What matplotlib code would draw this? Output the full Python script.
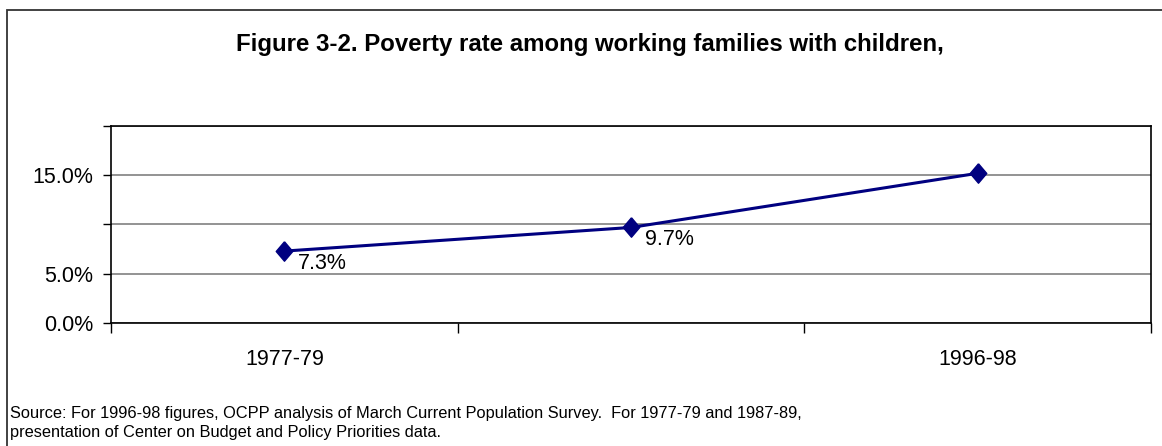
import matplotlib.pyplot as plt
from matplotlib.patches import Rectangle
from matplotlib.ticker import FixedLocator

plt.rcParams['font.family'] = ['Liberation Sans', 'DejaVu Sans']

# data
periods = ['1977-79', '1987-89', '1996-98']
shown_labels = ['1977-79', '', '1996-98']
rates = [7.3, 9.7, 15.2]
point_labels = ['7.3%', '9.7%', '']
y_grid = [0, 5, 10, 15, 20]
y_labels = ['0.0%', '5.0%', '', '15.0%', '']

title = 'Figure 3-2. Poverty rate among working families with children,'
source = ('Source: For 1996-98 figures, OCPP analysis of March Current Population Survey.  '
          'For 1977-79 and 1987-89,\npresentation of Center on Budget and Policy Priorities data.')

W, H = 1162, 446
fig = plt.figure(figsize=(W / 100, H / 100), dpi=100)

# outer chart frame, cut off at right and bottom like the original
fig.patches.append(Rectangle((7 / W, -0.2), 1.2, 0.2 + (H - 10) / H,
                             transform=fig.transFigure, fill=False,
                             edgecolor='#333333', linewidth=1.3))

ax = fig.add_axes([111 / W, 1 - 323 / H, (1151 - 111) / W, (323 - 126) / H])

# slightly tall diamond, like the Excel marker
diamond = [(0, 1), (0.85, 0), (0, -1), (-0.85, 0), (0, 1)]

x = list(range(len(periods)))
ax.plot(x, rates, color='#000080', linewidth=2.2, marker=diamond,
        markersize=14, markerfacecolor='#000080', markeredgecolor='#000080', zorder=3)

for xi, yi, lab in zip(x, rates, point_labels):
    if lab:
        ax.annotate(lab, (xi, yi), xytext=(10, -9), textcoords='offset points',
                    ha='left', va='center', fontsize=15.5)

ax.set_xlim(-0.5, 2.5)
ax.set_ylim(0, 20)

ax.set_xticks(x)
ax.set_xticklabels(shown_labels, fontsize=15.5)
ax.tick_params(axis='x', which='major', length=0, pad=19)
ax.xaxis.set_minor_locator(FixedLocator([-0.5, 0.5, 1.5, 2.5]))
ax.tick_params(axis='x', which='minor', length=7, width=1, color='black')

ax.set_yticks(y_grid)
ax.set_yticklabels(y_labels, fontsize=15.5)
ax.tick_params(axis='y', length=6, width=1, pad=7)

ax.grid(axis='y', color='#808080', linewidth=1.2)
ax.set_axisbelow(True)
for s in ax.spines.values():
    s.set_color('black')
    s.set_linewidth(1.2)

fig.text(590 / W, 1 - 45 / H, title, ha='center', va='center',
         fontsize=17.3, fontweight='bold')
fig.text(10 / W, 1 - 423 / H, source, ha='left', va='center',
         fontsize=11.8, linespacing=1.35)

fig.savefig('out.png', dpi=100)
